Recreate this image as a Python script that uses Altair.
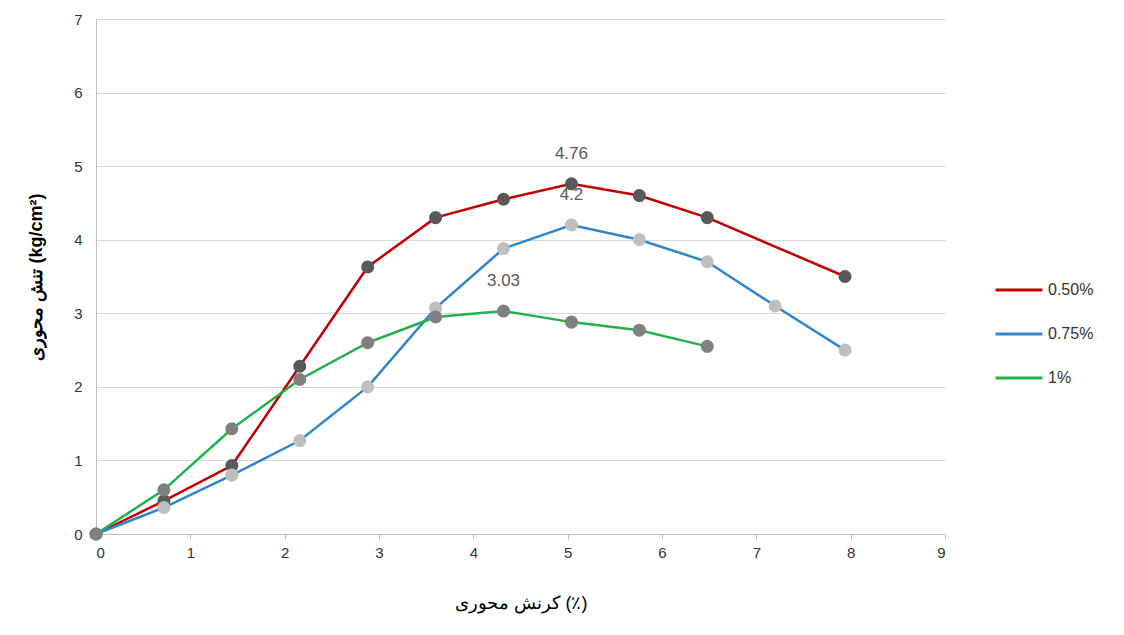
import altair as alt
import pandas as pd

series = ["0.50%", "0.75%", "1%"]
x_red = [0, 0.72, 1.44, 2.16, 2.88, 3.6, 4.32, 5.04, 5.76, 6.48, 7.94]
y_red = [0, 0.45, 0.93, 2.28, 3.63, 4.3, 4.55, 4.76, 4.6, 4.3, 3.5]
x_blue = [0, 0.72, 1.44, 2.16, 2.88, 3.6, 4.32, 5.04, 5.76, 6.48, 7.2, 7.94]
y_blue = [0, 0.36, 0.8, 1.27, 2.0, 3.07, 3.88, 4.2, 4.0, 3.7, 3.1, 2.5]
x_green = [0, 0.72, 1.44, 2.16, 2.88, 3.6, 4.32, 5.04, 5.76, 6.48]
y_green = [0, 0.6, 1.43, 2.1, 2.6, 2.95, 3.03, 2.88, 2.77, 2.55]
line_colors = ["#c00000", "#2e86d0", "#22b14c"]
marker_colors = ["#595959", "#bfbfbf", "#808080"]
peaks = [("0.50%", 5.04, 4.76, "4.76"), ("0.75%", 5.04, 4.2, "4.2"), ("1%", 4.32, 3.03, "3.03")]

rows = []
for s, xs, ys in zip(series, [x_red, x_blue, x_green], [y_red, y_blue, y_green]):
    for i, (x, y) in enumerate(zip(xs, ys)):
        rows.append({"s": s, "x": x, "y": y, "i": i})
df = pd.DataFrame(rows)
lab = pd.DataFrame(peaks, columns=["s", "x", "y", "t"])

font = "Liberation Sans"
xs = alt.Scale(domain=[0, 9], nice=False)
ys = alt.Scale(domain=[0, 7], nice=False)
X = alt.X("x:Q", scale=xs, title="کرنش محوری (٪)",
          axis=alt.Axis(values=list(range(10)), grid=False, domainColor="#bfbfbf",
                        tickColor="#bfbfbf", labelFontSize=15, labelColor="#333", labelPadding=6,
                        titleFontSize=18, titleFontWeight="normal", titlePadding=34))
Y = alt.Y("y:Q", scale=ys, title="تنش محوری (kg/cm²)",
          axis=alt.Axis(values=list(range(8)), gridColor="#d9d9d9", domainColor="#bfbfbf",
                        ticks=False, labelFontSize=15, labelColor="#333", labelPadding=14,
                        titleFontSize=18, titleFontWeight="bold", titlePadding=28))

lines = alt.Chart(df).mark_line(strokeWidth=2.5).encode(
    x=X, y=Y, order="i:Q",
    color=alt.Color("s:N", scale=alt.Scale(domain=series, range=line_colors),
                    legend=alt.Legend(title=None, orient="none", legendX=898, legendY=246,
                                      symbolType="stroke", symbolStrokeWidth=3, symbolSize=2200,
                                      labelFontSize=16, rowPadding=11, labelColor="#333")))
pts = alt.Chart(df).mark_circle(size=170, opacity=1).encode(
    x=X, y=Y,
    fill=alt.Fill("s:N", scale=alt.Scale(domain=series, range=marker_colors), legend=None))
txt = alt.Chart(lab).mark_text(dy=-30, fontSize=17, color="#595959", font=font).encode(
    x=X, y=Y, text="t:N")

chart = alt.layer(lines, pts, txt).resolve_scale(color="independent").properties(
    width=849, height=515, autosize=alt.AutoSizeParams(type="none"),
    padding={"left": 88, "top": 11, "right": 160, "bottom": 90}
).configure(font=font).configure_view(stroke=None)

chart.save("out.html", embed_options={"renderer": "svg", "actions": False})
